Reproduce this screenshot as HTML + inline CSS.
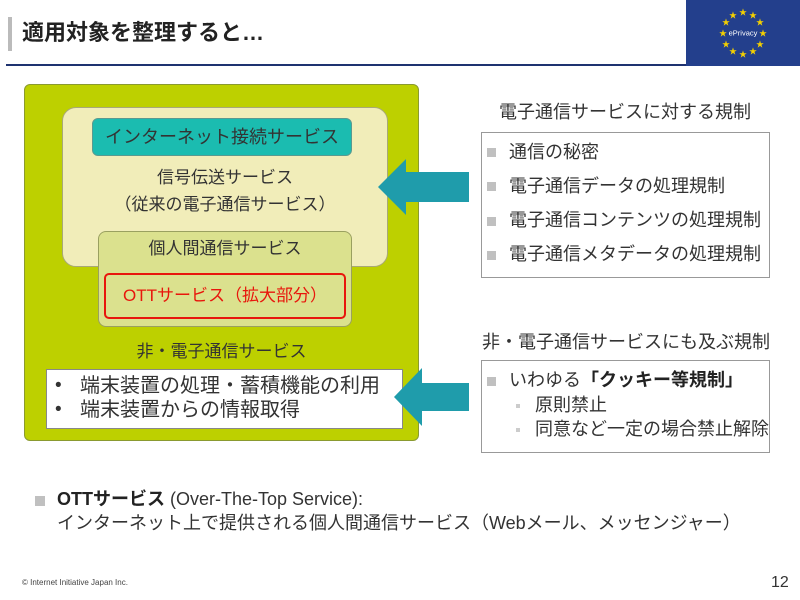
<!DOCTYPE html>
<html><head><meta charset="utf-8"><style>
body{margin:0;width:800px;height:600px;position:relative;background:#fff;font-family:"Liberation Sans","Noto Sans CJK JP",sans-serif;color:#333;overflow:hidden}
div,span{position:absolute;box-sizing:border-box}
.t{white-space:nowrap;line-height:1}
.c{text-align:center}
.sq{width:9px;height:9px;background:#c0c0c0}
</style></head><body>
<div style="left:8px;top:17px;width:4px;height:34px;background:#bbb"></div>
<div class="t" style="left:22px;top:22px;font-size:22px;font-weight:bold;color:#222">適用対象を整理すると…</div>
<div style="left:6px;top:64px;width:682px;height:2px;background:#1e3270"></div>
<div style="left:686px;top:0;width:114px;height:66px;background:#233f8c"></div>
<svg style="position:absolute;left:686px;top:0" width="114" height="66">
<g fill="#f4d000" font-size="8" text-anchor="middle">
<text x="57" y="15">★</text><text x="67" y="18">★</text><text x="47" y="18">★</text>
<text x="40" y="25">★</text><text x="74" y="25">★</text>
<text x="37" y="36">★</text><text x="77" y="36">★</text>
<text x="40" y="47">★</text><text x="74" y="47">★</text>
<text x="47" y="54">★</text><text x="67" y="54">★</text><text x="57" y="57">★</text>
</g>
<text x="57" y="35.5" fill="#fff" font-size="7.5" text-anchor="middle" font-family="Liberation Sans">ePrivacy</text>
</svg>

<div style="left:24px;top:84px;width:395px;height:357px;background:#bdd000;border:1px solid #8a9a30;border-radius:6px"></div>
<div style="left:62px;top:107px;width:326px;height:160px;background:#f1edb9;border:1px solid #a8a878;border-radius:14px"></div>
<div class="t c" style="left:92px;top:118px;width:260px;height:38px;background:#1bbcb0;border:1px solid #5a9a90;border-radius:6px;font-size:18px;padding-top:9px;color:#333">インターネット接続サービス</div>
<div class="t c" style="left:62px;top:169px;width:326px;font-size:17px">信号伝送サービス</div>
<div class="t c" style="left:62px;top:196px;width:326px;font-size:17px">（従来の電子通信サービス）</div>
<div style="left:98px;top:231px;width:254px;height:96px;background:#dbe18e;border:1px solid #9aa060;border-radius:8px"></div>
<div class="t c" style="left:98px;top:240px;width:254px;font-size:17px">個人間通信サービス</div>
<div class="t c" style="left:104px;top:273px;width:242px;height:46px;border:2.5px solid #e8160c;border-radius:5px;font-size:17px;color:#e8160c;padding-top:12px">OTTサービス（拡大部分）</div>
<div class="t c" style="left:24px;top:343px;width:395px;font-size:17px">非・電子通信サービス</div>
<div style="left:46px;top:369px;width:357px;height:60px;background:#fff;border:1px solid #888"></div>
<div class="t" style="left:55px;top:376px;font-size:19px">•</div>
<div class="t" style="left:80px;top:376px;font-size:20px">端末装置の処理・蓄積機能の利用</div>
<div class="t" style="left:55px;top:400px;font-size:19px">•</div>
<div class="t" style="left:80px;top:400px;font-size:20px">端末装置からの情報取得</div>

<svg style="position:absolute;left:0;top:0" width="800" height="600">
<polygon points="378,187 406,159 406,172 469,172 469,202 406,202 406,215" fill="#1f9cab"/>
<polygon points="394,397 422,368 422,383 469,383 469,411 422,411 422,426" fill="#1f9cab"/>
</svg>

<div class="t" style="left:499px;top:103px;font-size:18px">電子通信サービスに対する規制</div>
<div style="left:481px;top:132px;width:289px;height:146px;border:1px solid #999"></div>
<div class="sq" style="left:487px;top:148px"></div><div class="t" style="left:509px;top:143px;font-size:18px">通信の秘密</div>
<div class="sq" style="left:487px;top:182px"></div><div class="t" style="left:509px;top:177px;font-size:18px">電子通信データの処理規制</div>
<div class="sq" style="left:487px;top:217px"></div><div class="t" style="left:509px;top:211px;font-size:18px">電子通信コンテンツの処理規制</div>
<div class="sq" style="left:487px;top:251px"></div><div class="t" style="left:509px;top:245px;font-size:18px">電子通信メタデータの処理規制</div>

<div class="t" style="left:482px;top:333px;font-size:18px">非・電子通信サービスにも及ぶ規制</div>
<div style="left:481px;top:360px;width:289px;height:93px;border:1px solid #999"></div>
<div class="sq" style="left:487px;top:377px"></div><div class="t" style="left:509px;top:371px;font-size:18px">いわゆる<b style="color:#222">「クッキー等規制」</b></div>
<div style="left:516px;top:404px;width:4px;height:4px;background:#ccc"></div><div class="t" style="left:535px;top:396px;font-size:18px">原則禁止</div>
<div style="left:516px;top:428px;width:4px;height:4px;background:#ccc"></div><div class="t" style="left:535px;top:420px;font-size:18px">同意など一定の場合禁止解除</div>

<div class="sq" style="left:35px;top:496px;width:10px;height:10px"></div>
<div class="t" style="left:57px;top:490px;font-size:18px"><b style="color:#222">OTTサービス</b> (Over-The-Top Service):</div>
<div class="t" style="left:57px;top:514px;font-size:18px">インターネット上で提供される個人間通信サービス（Webメール、メッセンジャー）</div>
<div class="t" style="left:22px;top:579px;font-size:8px;color:#444">© Internet Initiative Japan Inc.</div>
<div class="t" style="left:771px;top:575px;font-size:16px;color:#333">12</div>
</body></html>
